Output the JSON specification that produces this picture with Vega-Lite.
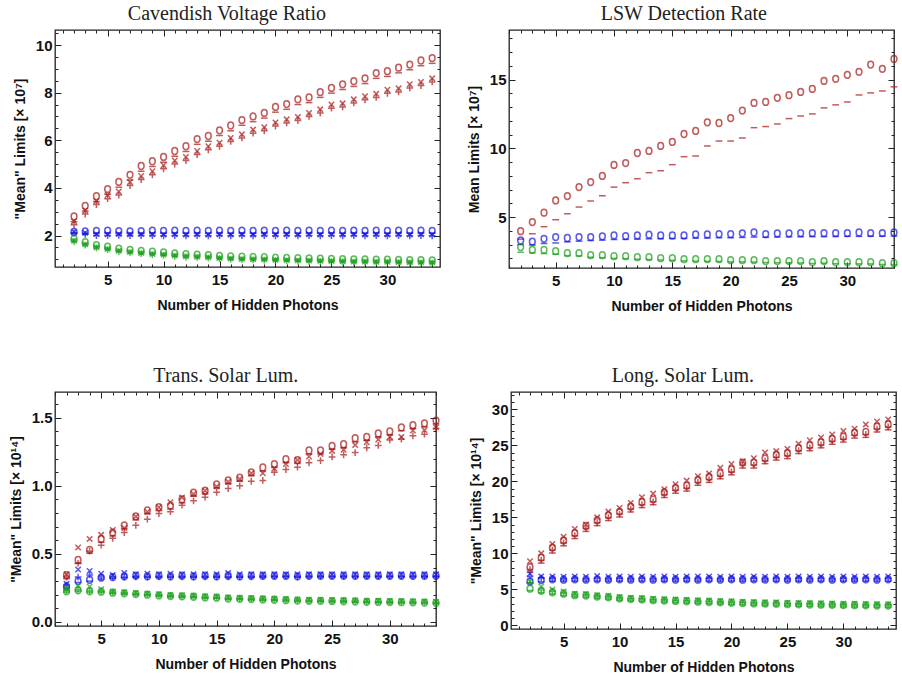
{
"$schema": "https://vega.github.io/schema/vega-lite/v6.json",
"padding": {"left": 8, "top": 2, "right": 5, "bottom": 5},
"config": {
  "view": {"stroke": "#222", "strokeWidth": 1.3},
  "axis": {"grid": false, "domain": false, "labelFont": "Liberation Sans", "labelFontWeight": "bold", "labelFontSize": 15, "labelColor": "#111", "titleFont": "Liberation Sans", "titleFontWeight": "bold", "titleFontSize": 14, "titleColor": "#111", "tickColor": "#222", "tickWidth": 1, "labelOverlap": false},
  "axisX": {"labelPadding": 11, "titlePadding": 11},
  "axisY": {"labelPadding": 9, "titlePadding": 8},
  "title": {"font": "Liberation Serif", "fontSize": 20, "fontWeight": "normal", "color": "#222", "offset": 6, "anchor": "middle", "frame": "bounds"},
  "point": {"filled": false, "strokeWidth": 1.5, "size": 46}
},
"datasets": {
"cav": [
{"s":"r","n":2,"o":2.8,"d":2.58,"x":2.6,"p":2.45},
{"s":"r","n":3,"o":3.25,"d":3.03,"x":3.05,"p":2.9},
{"s":"r","n":4,"o":3.65,"d":3.43,"x":3.45,"p":3.3},
{"s":"r","n":5,"o":3.95,"d":3.73,"x":3.7,"p":3.55},
{"s":"r","n":6,"o":4.25,"d":4.03,"x":3.85,"p":3.7},
{"s":"r","n":7,"o":4.55,"d":4.33,"x":4.25,"p":4.1},
{"s":"r","n":8,"o":4.92,"d":4.7,"x":4.5,"p":4.35},
{"s":"r","n":9,"o":5.12,"d":4.9,"x":4.7,"p":4.55},
{"s":"r","n":10,"o":5.3,"d":5.08,"x":4.95,"p":4.8},
{"s":"r","n":11,"o":5.55,"d":5.33,"x":5.15,"p":5.0},
{"s":"r","n":12,"o":5.75,"d":5.53,"x":5.3,"p":5.15},
{"s":"r","n":13,"o":6.05,"d":5.83,"x":5.55,"p":5.4},
{"s":"r","n":14,"o":6.18,"d":5.96,"x":5.75,"p":5.6},
{"s":"r","n":15,"o":6.42,"d":6.2,"x":5.9,"p":5.75},
{"s":"r","n":16,"o":6.62,"d":6.4,"x":6.1,"p":5.95},
{"s":"r","n":17,"o":6.85,"d":6.63,"x":6.25,"p":6.1},
{"s":"r","n":18,"o":7.0,"d":6.78,"x":6.45,"p":6.3},
{"s":"r","n":19,"o":7.15,"d":6.93,"x":6.55,"p":6.4},
{"s":"r","n":20,"o":7.4,"d":7.18,"x":6.75,"p":6.6},
{"s":"r","n":21,"o":7.52,"d":7.3,"x":6.88,"p":6.73},
{"s":"r","n":22,"o":7.72,"d":7.5,"x":6.98,"p":6.83},
{"s":"r","n":23,"o":7.8,"d":7.58,"x":7.15,"p":7.0},
{"s":"r","n":24,"o":8.02,"d":7.8,"x":7.3,"p":7.15},
{"s":"r","n":25,"o":8.2,"d":7.98,"x":7.5,"p":7.35},
{"s":"r","n":26,"o":8.35,"d":8.13,"x":7.55,"p":7.4},
{"s":"r","n":27,"o":8.48,"d":8.26,"x":7.72,"p":7.57},
{"s":"r","n":28,"o":8.6,"d":8.38,"x":7.85,"p":7.7},
{"s":"r","n":29,"o":8.82,"d":8.6,"x":7.95,"p":7.8},
{"s":"r","n":30,"o":8.9,"d":8.68,"x":8.12,"p":7.97},
{"s":"r","n":31,"o":9.05,"d":8.83,"x":8.18,"p":8.03},
{"s":"r","n":32,"o":9.18,"d":8.96,"x":8.35,"p":8.2},
{"s":"r","n":33,"o":9.35,"d":9.13,"x":8.45,"p":8.3},
{"s":"r","n":34,"o":9.45,"d":9.23,"x":8.6,"p":8.45},
{"s":"b","n":2,"o":2.15,"d":2.12,"x":2.15,"p":2.1},
{"s":"b","n":3,"o":2.18,"d":2.1,"x":2.12,"p":2.05},
{"s":"b","n":4,"o":2.2,"d":2.1,"x":2.06,"p":2.0},
{"s":"b","n":5,"o":2.21,"d":2.11,"x":2.05,"p":2.0},
{"s":"b","n":6,"o":2.19,"d":2.1,"x":2.06,"p":2.01},
{"s":"b","n":7,"o":2.18,"d":2.1,"x":2.05,"p":2.0},
{"s":"b","n":8,"o":2.19,"d":2.1,"x":2.06,"p":2.0},
{"s":"b","n":9,"o":2.21,"d":2.11,"x":2.05,"p":2.0},
{"s":"b","n":10,"o":2.2,"d":2.1,"x":2.04,"p":1.99},
{"s":"b","n":11,"o":2.21,"d":2.11,"x":2.05,"p":2.0},
{"s":"b","n":12,"o":2.2,"d":2.1,"x":2.04,"p":1.99},
{"s":"b","n":13,"o":2.21,"d":2.11,"x":2.05,"p":2.0},
{"s":"b","n":14,"o":2.2,"d":2.1,"x":2.04,"p":1.99},
{"s":"b","n":15,"o":2.21,"d":2.11,"x":2.05,"p":2.0},
{"s":"b","n":16,"o":2.2,"d":2.1,"x":2.04,"p":1.99},
{"s":"b","n":17,"o":2.21,"d":2.11,"x":2.05,"p":2.0},
{"s":"b","n":18,"o":2.2,"d":2.1,"x":2.04,"p":1.99},
{"s":"b","n":19,"o":2.21,"d":2.11,"x":2.05,"p":2.0},
{"s":"b","n":20,"o":2.2,"d":2.1,"x":2.04,"p":1.99},
{"s":"b","n":21,"o":2.21,"d":2.11,"x":2.05,"p":2.0},
{"s":"b","n":22,"o":2.2,"d":2.1,"x":2.04,"p":1.99},
{"s":"b","n":23,"o":2.21,"d":2.11,"x":2.05,"p":2.0},
{"s":"b","n":24,"o":2.2,"d":2.1,"x":2.04,"p":1.99},
{"s":"b","n":25,"o":2.21,"d":2.11,"x":2.05,"p":2.0},
{"s":"b","n":26,"o":2.2,"d":2.1,"x":2.04,"p":1.99},
{"s":"b","n":27,"o":2.21,"d":2.11,"x":2.05,"p":2.0},
{"s":"b","n":28,"o":2.2,"d":2.1,"x":2.04,"p":1.99},
{"s":"b","n":29,"o":2.21,"d":2.11,"x":2.05,"p":2.0},
{"s":"b","n":30,"o":2.2,"d":2.1,"x":2.04,"p":1.99},
{"s":"b","n":31,"o":2.21,"d":2.11,"x":2.05,"p":2.0},
{"s":"b","n":32,"o":2.2,"d":2.1,"x":2.04,"p":1.99},
{"s":"b","n":33,"o":2.21,"d":2.11,"x":2.05,"p":2.0},
{"s":"b","n":34,"o":2.2,"d":2.1,"x":2.04,"p":1.99},
{"s":"g","n":2,"o":1.87,"d":1.81,"x":1.78,"p":1.75},
{"s":"g","n":3,"o":1.72,"d":1.66,"x":1.63,"p":1.6},
{"s":"g","n":4,"o":1.6,"d":1.54,"x":1.51,"p":1.48},
{"s":"g","n":5,"o":1.53,"d":1.47,"x":1.44,"p":1.41},
{"s":"g","n":6,"o":1.45,"d":1.39,"x":1.36,"p":1.33},
{"s":"g","n":7,"o":1.4,"d":1.34,"x":1.31,"p":1.28},
{"s":"g","n":8,"o":1.36,"d":1.3,"x":1.27,"p":1.24},
{"s":"g","n":9,"o":1.32,"d":1.26,"x":1.23,"p":1.2},
{"s":"g","n":10,"o":1.29,"d":1.23,"x":1.2,"p":1.17},
{"s":"g","n":11,"o":1.25,"d":1.19,"x":1.16,"p":1.13},
{"s":"g","n":12,"o":1.22,"d":1.16,"x":1.13,"p":1.1},
{"s":"g","n":13,"o":1.2,"d":1.14,"x":1.11,"p":1.08},
{"s":"g","n":14,"o":1.18,"d":1.12,"x":1.09,"p":1.06},
{"s":"g","n":15,"o":1.15,"d":1.09,"x":1.06,"p":1.03},
{"s":"g","n":16,"o":1.13,"d":1.07,"x":1.04,"p":1.01},
{"s":"g","n":17,"o":1.11,"d":1.05,"x":1.02,"p":0.99},
{"s":"g","n":18,"o":1.1,"d":1.04,"x":1.01,"p":0.98},
{"s":"g","n":19,"o":1.09,"d":1.03,"x":1.0,"p":0.97},
{"s":"g","n":20,"o":1.07,"d":1.01,"x":0.98,"p":0.95},
{"s":"g","n":21,"o":1.06,"d":1.0,"x":0.97,"p":0.94},
{"s":"g","n":22,"o":1.05,"d":0.99,"x":0.96,"p":0.93},
{"s":"g","n":23,"o":1.04,"d":0.98,"x":0.95,"p":0.92},
{"s":"g","n":24,"o":1.03,"d":0.97,"x":0.94,"p":0.91},
{"s":"g","n":25,"o":1.02,"d":0.96,"x":0.93,"p":0.9},
{"s":"g","n":26,"o":1.01,"d":0.95,"x":0.92,"p":0.89},
{"s":"g","n":27,"o":1.0,"d":0.94,"x":0.91,"p":0.88},
{"s":"g","n":28,"o":1.0,"d":0.94,"x":0.91,"p":0.88},
{"s":"g","n":29,"o":0.99,"d":0.93,"x":0.9,"p":0.87},
{"s":"g","n":30,"o":0.99,"d":0.93,"x":0.9,"p":0.87},
{"s":"g","n":31,"o":0.98,"d":0.92,"x":0.89,"p":0.86},
{"s":"g","n":32,"o":0.97,"d":0.91,"x":0.88,"p":0.85},
{"s":"g","n":33,"o":0.97,"d":0.91,"x":0.88,"p":0.85},
{"s":"g","n":34,"o":0.96,"d":0.9,"x":0.87,"p":0.84}
],
"lsw": [
{"s":"r","n":2,"o":3.98,"d":3.4},
{"s":"r","n":3,"o":4.64,"d":3.79},
{"s":"r","n":4,"o":5.32,"d":4.3},
{"s":"r","n":5,"o":6.21,"d":4.81},
{"s":"r","n":6,"o":6.53,"d":5.24},
{"s":"r","n":7,"o":7.18,"d":5.73},
{"s":"r","n":8,"o":7.55,"d":6.17},
{"s":"r","n":9,"o":7.99,"d":6.55},
{"s":"r","n":10,"o":8.79,"d":7.18},
{"s":"r","n":11,"o":8.93,"d":7.5},
{"s":"r","n":12,"o":9.66,"d":7.79},
{"s":"r","n":13,"o":9.81,"d":8.23},
{"s":"r","n":14,"o":10.17,"d":8.37},
{"s":"r","n":15,"o":10.46,"d":8.81},
{"s":"r","n":16,"o":11.04,"d":9.39},
{"s":"r","n":17,"o":11.26,"d":9.44},
{"s":"r","n":18,"o":11.89,"d":10.17},
{"s":"r","n":19,"o":11.84,"d":10.53},
{"s":"r","n":20,"o":12.2,"d":10.53},
{"s":"r","n":21,"o":12.74,"d":10.75},
{"s":"r","n":22,"o":13.3,"d":11.5},
{"s":"r","n":23,"o":13.37,"d":11.58},
{"s":"r","n":24,"o":13.67,"d":11.77},
{"s":"r","n":25,"o":13.86,"d":12.16},
{"s":"r","n":26,"o":14.1,"d":12.35},
{"s":"r","n":27,"o":14.32,"d":12.5},
{"s":"r","n":28,"o":14.9,"d":12.94},
{"s":"r","n":29,"o":15.05,"d":13.16},
{"s":"r","n":30,"o":15.34,"d":13.37},
{"s":"r","n":31,"o":15.56,"d":13.88},
{"s":"r","n":32,"o":16.09,"d":14.03},
{"s":"r","n":33,"o":15.78,"d":14.17},
{"s":"r","n":34,"o":16.5,"d":14.47},
{"s":"b","n":2,"o":3.3,"d":3.0},
{"s":"b","n":3,"o":3.22,"d":2.97},
{"s":"b","n":4,"o":3.42,"d":3.08},
{"s":"b","n":5,"o":3.55,"d":3.12},
{"s":"b","n":6,"o":3.48,"d":3.2},
{"s":"b","n":7,"o":3.55,"d":3.25},
{"s":"b","n":8,"o":3.55,"d":3.3},
{"s":"b","n":9,"o":3.6,"d":3.33},
{"s":"b","n":10,"o":3.67,"d":3.37},
{"s":"b","n":11,"o":3.62,"d":3.38},
{"s":"b","n":12,"o":3.67,"d":3.4},
{"s":"b","n":13,"o":3.72,"d":3.42},
{"s":"b","n":14,"o":3.67,"d":3.43},
{"s":"b","n":15,"o":3.67,"d":3.44},
{"s":"b","n":16,"o":3.67,"d":3.45},
{"s":"b","n":17,"o":3.74,"d":3.47},
{"s":"b","n":18,"o":3.74,"d":3.48},
{"s":"b","n":19,"o":3.77,"d":3.5},
{"s":"b","n":20,"o":3.77,"d":3.5},
{"s":"b","n":21,"o":3.82,"d":3.52},
{"s":"b","n":22,"o":3.88,"d":3.55},
{"s":"b","n":23,"o":3.77,"d":3.53},
{"s":"b","n":24,"o":3.82,"d":3.55},
{"s":"b","n":25,"o":3.82,"d":3.56},
{"s":"b","n":26,"o":3.84,"d":3.57},
{"s":"b","n":27,"o":3.84,"d":3.58},
{"s":"b","n":28,"o":3.84,"d":3.58},
{"s":"b","n":29,"o":3.84,"d":3.59},
{"s":"b","n":30,"o":3.84,"d":3.6},
{"s":"b","n":31,"o":3.88,"d":3.6},
{"s":"b","n":32,"o":3.84,"d":3.61},
{"s":"b","n":33,"o":3.84,"d":3.61},
{"s":"b","n":34,"o":3.88,"d":3.62},
{"s":"g","n":2,"o":2.82,"d":2.45},
{"s":"g","n":3,"o":2.62,"d":2.4},
{"s":"g","n":4,"o":2.62,"d":2.35},
{"s":"g","n":5,"o":2.52,"d":2.3},
{"s":"g","n":6,"o":2.38,"d":2.2},
{"s":"g","n":7,"o":2.38,"d":2.18},
{"s":"g","n":8,"o":2.23,"d":2.08},
{"s":"g","n":9,"o":2.23,"d":2.05},
{"s":"g","n":10,"o":2.16,"d":2.0},
{"s":"g","n":11,"o":2.16,"d":1.98},
{"s":"g","n":12,"o":2.09,"d":1.94},
{"s":"g","n":13,"o":2.09,"d":1.92},
{"s":"g","n":14,"o":2.01,"d":1.88},
{"s":"g","n":15,"o":2.01,"d":1.86},
{"s":"g","n":16,"o":1.94,"d":1.82},
{"s":"g","n":17,"o":1.94,"d":1.8},
{"s":"g","n":18,"o":1.94,"d":1.79},
{"s":"g","n":19,"o":1.94,"d":1.78},
{"s":"g","n":20,"o":1.87,"d":1.75},
{"s":"g","n":21,"o":1.87,"d":1.74},
{"s":"g","n":22,"o":1.87,"d":1.73},
{"s":"g","n":23,"o":1.8,"d":1.7},
{"s":"g","n":24,"o":1.8,"d":1.69},
{"s":"g","n":25,"o":1.8,"d":1.68},
{"s":"g","n":26,"o":1.8,"d":1.67},
{"s":"g","n":27,"o":1.72,"d":1.63},
{"s":"g","n":28,"o":1.8,"d":1.66},
{"s":"g","n":29,"o":1.72,"d":1.62},
{"s":"g","n":30,"o":1.72,"d":1.61},
{"s":"g","n":31,"o":1.72,"d":1.6},
{"s":"g","n":32,"o":1.72,"d":1.6},
{"s":"g","n":33,"o":1.65,"d":1.56},
{"s":"g","n":34,"o":1.65,"d":1.55}
],
"trans": [
{"s":"r","n":2,"o":0.343,"d":0.318,"x":0.35,"p":0.33},
{"s":"r","n":3,"o":0.456,"d":0.431,"x":0.547,"p":0.43},
{"s":"r","n":4,"o":0.53,"d":0.505,"x":0.61,"p":0.52},
{"s":"r","n":5,"o":0.61,"d":0.585,"x":0.64,"p":0.564},
{"s":"r","n":6,"o":0.657,"d":0.632,"x":0.676,"p":0.615},
{"s":"r","n":7,"o":0.71,"d":0.685,"x":0.69,"p":0.657},
{"s":"r","n":8,"o":0.775,"d":0.75,"x":0.775,"p":0.71},
{"s":"r","n":9,"o":0.82,"d":0.795,"x":0.81,"p":0.755},
{"s":"r","n":10,"o":0.843,"d":0.818,"x":0.843,"p":0.797},
{"s":"r","n":11,"o":0.855,"d":0.83,"x":0.88,"p":0.81},
{"s":"r","n":12,"o":0.9,"d":0.875,"x":0.915,"p":0.858},
{"s":"r","n":13,"o":0.95,"d":0.925,"x":0.94,"p":0.89},
{"s":"r","n":14,"o":0.965,"d":0.94,"x":0.965,"p":0.917},
{"s":"r","n":15,"o":1.01,"d":0.985,"x":0.995,"p":0.953},
{"s":"r","n":16,"o":1.04,"d":1.015,"x":1.03,"p":0.98},
{"s":"r","n":17,"o":1.06,"d":1.035,"x":1.05,"p":1.0},
{"s":"r","n":18,"o":1.1,"d":1.075,"x":1.093,"p":1.034},
{"s":"r","n":19,"o":1.135,"d":1.11,"x":1.093,"p":1.04},
{"s":"r","n":20,"o":1.16,"d":1.135,"x":1.127,"p":1.1},
{"s":"r","n":21,"o":1.196,"d":1.171,"x":1.16,"p":1.12},
{"s":"r","n":22,"o":1.19,"d":1.165,"x":1.19,"p":1.137},
{"s":"r","n":23,"o":1.26,"d":1.235,"x":1.215,"p":1.17},
{"s":"r","n":24,"o":1.26,"d":1.235,"x":1.235,"p":1.186},
{"s":"r","n":25,"o":1.294,"d":1.269,"x":1.257,"p":1.213},
{"s":"r","n":26,"o":1.306,"d":1.281,"x":1.265,"p":1.228},
{"s":"r","n":27,"o":1.35,"d":1.325,"x":1.3,"p":1.245},
{"s":"r","n":28,"o":1.36,"d":1.335,"x":1.32,"p":1.28},
{"s":"r","n":29,"o":1.385,"d":1.36,"x":1.34,"p":1.297},
{"s":"r","n":30,"o":1.4,"d":1.375,"x":1.36,"p":1.338},
{"s":"r","n":31,"o":1.43,"d":1.405,"x":1.36,"p":1.343},
{"s":"r","n":32,"o":1.446,"d":1.421,"x":1.407,"p":1.368},
{"s":"r","n":33,"o":1.46,"d":1.435,"x":1.41,"p":1.38},
{"s":"r","n":34,"o":1.48,"d":1.455,"x":1.43,"p":1.424},
{"s":"b","n":2,"o":0.26,"d":0.25,"x":0.28,"p":0.27},
{"s":"b","n":3,"o":0.3,"d":0.29,"x":0.385,"p":0.33},
{"s":"b","n":4,"o":0.31,"d":0.3,"x":0.375,"p":0.345},
{"s":"b","n":5,"o":0.325,"d":0.315,"x":0.355,"p":0.33},
{"s":"b","n":6,"o":0.33,"d":0.32,"x":0.345,"p":0.33},
{"s":"b","n":7,"o":0.335,"d":0.325,"x":0.36,"p":0.33},
{"s":"b","n":8,"o":0.34,"d":0.328,"x":0.35,"p":0.332},
{"s":"b","n":9,"o":0.335,"d":0.328,"x":0.355,"p":0.332},
{"s":"b","n":10,"o":0.34,"d":0.328,"x":0.35,"p":0.332},
{"s":"b","n":11,"o":0.335,"d":0.328,"x":0.355,"p":0.332},
{"s":"b","n":12,"o":0.34,"d":0.328,"x":0.35,"p":0.332},
{"s":"b","n":13,"o":0.335,"d":0.328,"x":0.35,"p":0.332},
{"s":"b","n":14,"o":0.34,"d":0.328,"x":0.35,"p":0.332},
{"s":"b","n":15,"o":0.335,"d":0.328,"x":0.35,"p":0.332},
{"s":"b","n":16,"o":0.34,"d":0.328,"x":0.36,"p":0.332},
{"s":"b","n":17,"o":0.335,"d":0.328,"x":0.35,"p":0.332},
{"s":"b","n":18,"o":0.34,"d":0.328,"x":0.35,"p":0.332},
{"s":"b","n":19,"o":0.34,"d":0.328,"x":0.35,"p":0.335},
{"s":"b","n":20,"o":0.34,"d":0.33,"x":0.35,"p":0.335},
{"s":"b","n":21,"o":0.34,"d":0.33,"x":0.35,"p":0.335},
{"s":"b","n":22,"o":0.335,"d":0.328,"x":0.35,"p":0.332},
{"s":"b","n":23,"o":0.34,"d":0.33,"x":0.35,"p":0.335},
{"s":"b","n":24,"o":0.34,"d":0.33,"x":0.35,"p":0.335},
{"s":"b","n":25,"o":0.34,"d":0.33,"x":0.35,"p":0.335},
{"s":"b","n":26,"o":0.34,"d":0.33,"x":0.35,"p":0.335},
{"s":"b","n":27,"o":0.34,"d":0.33,"x":0.35,"p":0.335},
{"s":"b","n":28,"o":0.34,"d":0.33,"x":0.35,"p":0.335},
{"s":"b","n":29,"o":0.34,"d":0.33,"x":0.35,"p":0.335},
{"s":"b","n":30,"o":0.34,"d":0.33,"x":0.35,"p":0.335},
{"s":"b","n":31,"o":0.34,"d":0.33,"x":0.35,"p":0.335},
{"s":"b","n":32,"o":0.34,"d":0.33,"x":0.35,"p":0.335},
{"s":"b","n":33,"o":0.34,"d":0.33,"x":0.35,"p":0.335},
{"s":"b","n":34,"o":0.34,"d":0.33,"x":0.35,"p":0.335},
{"s":"g","n":2,"o":0.225,"d":0.219,"x":0.25,"p":0.229},
{"s":"g","n":3,"o":0.232,"d":0.226,"x":0.265,"p":0.236},
{"s":"g","n":4,"o":0.225,"d":0.219,"x":0.26,"p":0.229},
{"s":"g","n":5,"o":0.222,"d":0.216,"x":0.24,"p":0.226},
{"s":"g","n":6,"o":0.215,"d":0.209,"x":0.223,"p":0.219},
{"s":"g","n":7,"o":0.21,"d":0.204,"x":0.218,"p":0.214},
{"s":"g","n":8,"o":0.205,"d":0.199,"x":0.213,"p":0.209},
{"s":"g","n":9,"o":0.2,"d":0.194,"x":0.208,"p":0.204},
{"s":"g","n":10,"o":0.195,"d":0.189,"x":0.203,"p":0.199},
{"s":"g","n":11,"o":0.19,"d":0.184,"x":0.198,"p":0.194},
{"s":"g","n":12,"o":0.188,"d":0.182,"x":0.196,"p":0.192},
{"s":"g","n":13,"o":0.185,"d":0.179,"x":0.193,"p":0.189},
{"s":"g","n":14,"o":0.18,"d":0.174,"x":0.188,"p":0.184},
{"s":"g","n":15,"o":0.178,"d":0.172,"x":0.186,"p":0.182},
{"s":"g","n":16,"o":0.172,"d":0.166,"x":0.18,"p":0.176},
{"s":"g","n":17,"o":0.17,"d":0.164,"x":0.178,"p":0.174},
{"s":"g","n":18,"o":0.168,"d":0.162,"x":0.176,"p":0.172},
{"s":"g","n":19,"o":0.165,"d":0.159,"x":0.173,"p":0.169},
{"s":"g","n":20,"o":0.163,"d":0.157,"x":0.171,"p":0.167},
{"s":"g","n":21,"o":0.16,"d":0.154,"x":0.168,"p":0.164},
{"s":"g","n":22,"o":0.157,"d":0.151,"x":0.165,"p":0.161},
{"s":"g","n":23,"o":0.155,"d":0.149,"x":0.163,"p":0.159},
{"s":"g","n":24,"o":0.155,"d":0.149,"x":0.163,"p":0.159},
{"s":"g","n":25,"o":0.153,"d":0.147,"x":0.161,"p":0.157},
{"s":"g","n":26,"o":0.152,"d":0.146,"x":0.16,"p":0.156},
{"s":"g","n":27,"o":0.15,"d":0.144,"x":0.158,"p":0.154},
{"s":"g","n":28,"o":0.148,"d":0.142,"x":0.156,"p":0.152},
{"s":"g","n":29,"o":0.147,"d":0.141,"x":0.155,"p":0.151},
{"s":"g","n":30,"o":0.146,"d":0.14,"x":0.154,"p":0.15},
{"s":"g","n":31,"o":0.145,"d":0.139,"x":0.153,"p":0.149},
{"s":"g","n":32,"o":0.144,"d":0.138,"x":0.152,"p":0.148},
{"s":"g","n":33,"o":0.142,"d":0.136,"x":0.15,"p":0.146},
{"s":"g","n":34,"o":0.14,"d":0.134,"x":0.148,"p":0.144}
],
"long": [
{"s":"r","n":2,"o":8.1,"d":7.35,"x":8.9,"p":7.75},
{"s":"r","n":3,"o":9.4,"d":8.65,"x":10.0,"p":9.05},
{"s":"r","n":4,"o":10.8,"d":10.05,"x":11.3,"p":10.45},
{"s":"r","n":5,"o":11.8,"d":11.05,"x":12.3,"p":11.45},
{"s":"r","n":6,"o":12.8,"d":12.05,"x":13.4,"p":12.45},
{"s":"r","n":7,"o":13.8,"d":13.05,"x":14.0,"p":13.45},
{"s":"r","n":8,"o":14.6,"d":13.85,"x":15.0,"p":14.25},
{"s":"r","n":9,"o":15.3,"d":14.55,"x":15.8,"p":14.95},
{"s":"r","n":10,"o":15.8,"d":15.05,"x":16.3,"p":15.45},
{"s":"r","n":11,"o":16.5,"d":15.75,"x":17.0,"p":16.15},
{"s":"r","n":12,"o":17.1,"d":16.35,"x":17.8,"p":16.75},
{"s":"r","n":13,"o":17.5,"d":16.75,"x":18.3,"p":17.15},
{"s":"r","n":14,"o":18.5,"d":17.75,"x":18.9,"p":18.15},
{"s":"r","n":15,"o":19.1,"d":18.35,"x":19.6,"p":18.75},
{"s":"r","n":16,"o":19.4,"d":18.65,"x":20.1,"p":19.05},
{"s":"r","n":17,"o":20.2,"d":19.45,"x":20.7,"p":19.85},
{"s":"r","n":18,"o":20.6,"d":19.85,"x":21.1,"p":20.25},
{"s":"r","n":19,"o":21.1,"d":20.35,"x":21.9,"p":20.75},
{"s":"r","n":20,"o":21.65,"d":20.9,"x":22.4,"p":21.3},
{"s":"r","n":21,"o":22.6,"d":21.85,"x":22.8,"p":22.25},
{"s":"r","n":22,"o":22.6,"d":21.85,"x":23.2,"p":22.25},
{"s":"r","n":23,"o":23.2,"d":22.45,"x":24.0,"p":22.85},
{"s":"r","n":24,"o":23.7,"d":22.95,"x":24.2,"p":23.35},
{"s":"r","n":25,"o":23.9,"d":23.15,"x":24.5,"p":23.55},
{"s":"r","n":26,"o":24.6,"d":23.85,"x":25.2,"p":24.25},
{"s":"r","n":27,"o":25.0,"d":24.25,"x":25.7,"p":24.65},
{"s":"r","n":28,"o":25.4,"d":24.65,"x":26.1,"p":25.05},
{"s":"r","n":29,"o":25.9,"d":25.15,"x":26.5,"p":25.55},
{"s":"r","n":30,"o":26.2,"d":25.45,"x":27.0,"p":25.85},
{"s":"r","n":31,"o":26.75,"d":26.0,"x":27.3,"p":26.4},
{"s":"r","n":32,"o":26.85,"d":26.1,"x":27.9,"p":26.5},
{"s":"r","n":33,"o":27.6,"d":26.85,"x":28.3,"p":27.25},
{"s":"r","n":34,"o":27.9,"d":27.15,"x":28.6,"p":27.55},
{"s":"b","n":2,"o":6.1,"d":5.9,"x":7.2,"p":6.8},
{"s":"b","n":3,"o":6.3,"d":6.05,"x":6.8,"p":6.6},
{"s":"b","n":4,"o":6.4,"d":6.15,"x":6.8,"p":6.5},
{"s":"b","n":5,"o":6.35,"d":6.15,"x":6.75,"p":6.45},
{"s":"b","n":6,"o":6.4,"d":6.15,"x":6.8,"p":6.5},
{"s":"b","n":7,"o":6.35,"d":6.15,"x":6.75,"p":6.45},
{"s":"b","n":8,"o":6.4,"d":6.15,"x":6.85,"p":6.5},
{"s":"b","n":9,"o":6.35,"d":6.15,"x":6.75,"p":6.45},
{"s":"b","n":10,"o":6.4,"d":6.15,"x":6.8,"p":6.5},
{"s":"b","n":11,"o":6.35,"d":6.15,"x":6.75,"p":6.45},
{"s":"b","n":12,"o":6.4,"d":6.15,"x":6.8,"p":6.5},
{"s":"b","n":13,"o":6.35,"d":6.15,"x":6.75,"p":6.45},
{"s":"b","n":14,"o":6.4,"d":6.15,"x":6.8,"p":6.5},
{"s":"b","n":15,"o":6.35,"d":6.15,"x":6.75,"p":6.45},
{"s":"b","n":16,"o":6.4,"d":6.15,"x":6.8,"p":6.5},
{"s":"b","n":17,"o":6.35,"d":6.15,"x":6.8,"p":6.45},
{"s":"b","n":18,"o":6.4,"d":6.15,"x":6.8,"p":6.5},
{"s":"b","n":19,"o":6.35,"d":6.15,"x":6.75,"p":6.45},
{"s":"b","n":20,"o":6.4,"d":6.15,"x":6.8,"p":6.5},
{"s":"b","n":21,"o":6.35,"d":6.15,"x":6.75,"p":6.45},
{"s":"b","n":22,"o":6.4,"d":6.15,"x":6.8,"p":6.5},
{"s":"b","n":23,"o":6.35,"d":6.15,"x":6.75,"p":6.45},
{"s":"b","n":24,"o":6.4,"d":6.15,"x":6.8,"p":6.5},
{"s":"b","n":25,"o":6.35,"d":6.15,"x":6.75,"p":6.45},
{"s":"b","n":26,"o":6.4,"d":6.15,"x":6.8,"p":6.5},
{"s":"b","n":27,"o":6.35,"d":6.15,"x":6.75,"p":6.45},
{"s":"b","n":28,"o":6.4,"d":6.15,"x":6.8,"p":6.5},
{"s":"b","n":29,"o":6.35,"d":6.15,"x":6.75,"p":6.45},
{"s":"b","n":30,"o":6.4,"d":6.15,"x":6.8,"p":6.5},
{"s":"b","n":31,"o":6.35,"d":6.15,"x":6.75,"p":6.45},
{"s":"b","n":32,"o":6.4,"d":6.15,"x":6.8,"p":6.5},
{"s":"b","n":33,"o":6.35,"d":6.15,"x":6.75,"p":6.45},
{"s":"b","n":34,"o":6.4,"d":6.15,"x":6.8,"p":6.5},
{"s":"g","n":2,"o":5.1,"d":4.85,"x":6.1,"p":5.9},
{"s":"g","n":3,"o":4.8,"d":4.55,"x":5.4,"p":4.9},
{"s":"g","n":4,"o":4.6,"d":4.35,"x":5.0,"p":4.7},
{"s":"g","n":5,"o":4.4,"d":4.15,"x":4.7,"p":4.5},
{"s":"g","n":6,"o":4.2,"d":3.95,"x":4.4,"p":4.3},
{"s":"g","n":7,"o":4.15,"d":3.9,"x":4.35,"p":4.25},
{"s":"g","n":8,"o":4.0,"d":3.75,"x":4.2,"p":4.1},
{"s":"g","n":9,"o":3.9,"d":3.65,"x":4.1,"p":4.0},
{"s":"g","n":10,"o":3.75,"d":3.5,"x":3.95,"p":3.85},
{"s":"g","n":11,"o":3.65,"d":3.4,"x":3.85,"p":3.75},
{"s":"g","n":12,"o":3.6,"d":3.35,"x":3.8,"p":3.7},
{"s":"g","n":13,"o":3.5,"d":3.25,"x":3.7,"p":3.6},
{"s":"g","n":14,"o":3.45,"d":3.2,"x":3.65,"p":3.55},
{"s":"g","n":15,"o":3.4,"d":3.15,"x":3.6,"p":3.5},
{"s":"g","n":16,"o":3.35,"d":3.1,"x":3.55,"p":3.45},
{"s":"g","n":17,"o":3.3,"d":3.05,"x":3.5,"p":3.4},
{"s":"g","n":18,"o":3.25,"d":3.0,"x":3.45,"p":3.35},
{"s":"g","n":19,"o":3.2,"d":2.95,"x":3.4,"p":3.3},
{"s":"g","n":20,"o":3.15,"d":2.9,"x":3.35,"p":3.25},
{"s":"g","n":21,"o":3.1,"d":2.85,"x":3.3,"p":3.2},
{"s":"g","n":22,"o":3.05,"d":2.8,"x":3.25,"p":3.15},
{"s":"g","n":23,"o":3.02,"d":2.77,"x":3.22,"p":3.12},
{"s":"g","n":24,"o":3.0,"d":2.75,"x":3.2,"p":3.1},
{"s":"g","n":25,"o":2.95,"d":2.7,"x":3.15,"p":3.05},
{"s":"g","n":26,"o":2.92,"d":2.67,"x":3.12,"p":3.02},
{"s":"g","n":27,"o":2.9,"d":2.65,"x":3.1,"p":3.0},
{"s":"g","n":28,"o":2.88,"d":2.63,"x":3.08,"p":2.98},
{"s":"g","n":29,"o":2.85,"d":2.6,"x":3.05,"p":2.95},
{"s":"g","n":30,"o":2.82,"d":2.57,"x":3.02,"p":2.92},
{"s":"g","n":31,"o":2.8,"d":2.55,"x":3.0,"p":2.9},
{"s":"g","n":32,"o":2.78,"d":2.53,"x":2.98,"p":2.88},
{"s":"g","n":33,"o":2.76,"d":2.51,"x":2.96,"p":2.86},
{"s":"g","n":34,"o":2.75,"d":2.5,"x":2.95,"p":2.85}
]
},
"spacing": 50,
"vconcat": [
{"hconcat": [
{
 "title": "Cavendish Voltage Ratio",
 "width": 385, "height": 237,
 "data": {"name": "cav"},
 "transform": [{"fold": ["o","d","x","p"], "as": ["m","v"]}, {"filter": "isValid(datum.v)"}],
 "layer": [
  {"mark": {"type": "point"},
   "encoding": {
    "x": {"field": "n", "type": "quantitative", "scale": {"domain": [0.3, 34.7], "nice": false, "zero": false},
      "axis": {"orient": "bottom", "title": "Number of Hidden Photons", "values": [5,10,15,20,25,30], "format": "d", "tickSize": -6}},
    "y": {"field": "v", "type": "quantitative", "scale": {"domain": [0.68, 10.63], "nice": false, "zero": false},
      "axis": {"orient": "left", "title": "\"Mean\" Limits [× 10⁷]", "values": [2,4,6,8,10], "format": "d", "tickSize": -6}},
    "color": {"field": "s", "type": "nominal", "scale": {"domain": ["r","b","g"], "range": ["#a81818","#1515e6","#18a018"]}, "legend": null},
    "shape": {"field": "m", "type": "nominal", "scale": {"domain": ["o","d","x","p"], "range": ["M-0.85,0A0.85,1,0,1,1,0.85,0A0.85,1,0,1,1,-0.85,0Z", "M-1,0L1,0", "M-0.8,-0.8L0.8,0.8M-0.8,0.8L0.8,-0.8", "M-1,0L1,0M0,-1L0,1"]}, "legend": null}
   }},
  {"mark": {"type": "point", "opacity": 0},
   "transform": [{"filter": "datum.n == 2"}],
   "encoding": {
    "x": {"field": "n", "type": "quantitative", "axis": {"orient": "top", "title": null, "labels": false, "values": [5,10,15,20,25,30], "tickSize": -6}},
    "y": {"field": "v", "type": "quantitative", "axis": {"orient": "right", "title": null, "labels": false, "values": [2,4,6,8,10], "tickSize": -6}}
   }},
  {"mark": {"type": "point", "opacity": 0},
   "transform": [{"filter": "datum.n == 2"}],
   "encoding": {
    "x": {"field": "n", "type": "quantitative", "axis": {"orient": "bottom", "title": null, "labels": false, "values": [1,2,3,4,6,7,8,9,11,12,13,14,16,17,18,19,21,22,23,24,26,27,28,29,31,32,33,34], "tickSize": -3}},
    "y": {"field": "v", "type": "quantitative", "axis": {"orient": "left", "title": null, "labels": false, "values": [1,1.5,2.5,3,3.5,4.5,5,5.5,6.5,7,7.5,8.5,9,9.5,10.5], "tickSize": -3}}
   }},
  {"mark": {"type": "point", "opacity": 0},
   "transform": [{"filter": "datum.n == 2"}],
   "encoding": {
    "x": {"field": "n", "type": "quantitative", "axis": {"orient": "top", "title": null, "labels": false, "values": [1,2,3,4,6,7,8,9,11,12,13,14,16,17,18,19,21,22,23,24,26,27,28,29,31,32,33,34], "tickSize": -3}},
    "y": {"field": "v", "type": "quantitative", "axis": {"orient": "right", "title": null, "labels": false, "values": [1,1.5,2.5,3,3.5,4.5,5,5.5,6.5,7,7.5,8.5,9,9.5,10.5], "tickSize": -3}}
   }}
 ],
 "resolve": {"axis": {"x": "independent", "y": "independent"}}
},
{
 "title": "LSW Detection Rate",
 "width": 385, "height": 238,
 "data": {"name": "lsw"},
 "transform": [{"fold": ["o","d","x","p"], "as": ["m","v"]}, {"filter": "isValid(datum.v)"}],
 "layer": [
  {"mark": {"type": "point"},
   "encoding": {
    "x": {"field": "n", "type": "quantitative", "scale": {"domain": [1, 34], "nice": false, "zero": false},
      "axis": {"orient": "bottom", "title": "Number of Hidden Photons", "values": [5,10,15,20,25,30], "format": "d", "tickSize": -6}},
    "y": {"field": "v", "type": "quantitative", "scale": {"domain": [1.3, 18.6], "nice": false, "zero": false},
      "axis": {"orient": "left", "title": "Mean Limits [× 10⁷]", "values": [5,10,15], "format": "d", "tickSize": -6}},
    "color": {"field": "s", "type": "nominal", "scale": {"domain": ["r","b","g"], "range": ["#a81818","#1515e6","#18a018"]}, "legend": null},
    "shape": {"field": "m", "type": "nominal", "scale": {"domain": ["o","d","x","p"], "range": ["M-0.85,0A0.85,1,0,1,1,0.85,0A0.85,1,0,1,1,-0.85,0Z", "M-1,0L1,0", "M-0.8,-0.8L0.8,0.8M-0.8,0.8L0.8,-0.8", "M-1,0L1,0M0,-1L0,1"]}, "legend": null}
   }},
  {"mark": {"type": "point", "opacity": 0},
   "transform": [{"filter": "datum.n == 2"}],
   "encoding": {
    "x": {"field": "n", "type": "quantitative", "axis": {"orient": "top", "title": null, "labels": false, "values": [5,10,15,20,25,30], "tickSize": -6}},
    "y": {"field": "v", "type": "quantitative", "axis": {"orient": "right", "title": null, "labels": false, "values": [5,10,15], "tickSize": -6}}
   }},
  {"mark": {"type": "point", "opacity": 0},
   "transform": [{"filter": "datum.n == 2"}],
   "encoding": {
    "x": {"field": "n", "type": "quantitative", "axis": {"orient": "bottom", "title": null, "labels": false, "values": [1,2,3,4,6,7,8,9,11,12,13,14,16,17,18,19,21,22,23,24,26,27,28,29,31,32,33,34], "tickSize": -3}},
    "y": {"field": "v", "type": "quantitative", "axis": {"orient": "left", "title": null, "labels": false, "values": [2,3,4,6,7,8,9,11,12,13,14,16,17,18], "tickSize": -3}}
   }},
  {"mark": {"type": "point", "opacity": 0},
   "transform": [{"filter": "datum.n == 2"}],
   "encoding": {
    "x": {"field": "n", "type": "quantitative", "axis": {"orient": "top", "title": null, "labels": false, "values": [1,2,3,4,6,7,8,9,11,12,13,14,16,17,18,19,21,22,23,24,26,27,28,29,31,32,33,34], "tickSize": -3}},
    "y": {"field": "v", "type": "quantitative", "axis": {"orient": "right", "title": null, "labels": false, "values": [2,3,4,6,7,8,9,11,12,13,14,16,17,18], "tickSize": -3}}
   }}
 ],
 "resolve": {"axis": {"x": "independent", "y": "independent"}}
}
], "spacing": 24},
{"hconcat": [
{
 "title": "Trans. Solar Lum.",
 "width": 381, "height": 234,
 "data": {"name": "trans"},
 "transform": [{"fold": ["o","d","x","p"], "as": ["m","v"]}, {"filter": "isValid(datum.v)"}],
 "layer": [
  {"mark": {"type": "point"},
   "encoding": {
    "x": {"field": "n", "type": "quantitative", "scale": {"domain": [1, 34], "nice": false, "zero": false},
      "axis": {"orient": "bottom", "title": "Number of Hidden Photons", "values": [5,10,15,20,25,30], "format": "d", "tickSize": -6}},
    "y": {"field": "v", "type": "quantitative", "scale": {"domain": [-0.03, 1.69], "nice": false, "zero": false},
      "axis": {"orient": "left", "title": "\"Mean\" Limits [× 10¹⁴]", "values": [0,0.5,1,1.5], "format": ".1f", "tickSize": -6}},
    "color": {"field": "s", "type": "nominal", "scale": {"domain": ["r","b","g"], "range": ["#a81818","#1515e6","#18a018"]}, "legend": null},
    "shape": {"field": "m", "type": "nominal", "scale": {"domain": ["o","d","x","p"], "range": ["M-0.85,0A0.85,1,0,1,1,0.85,0A0.85,1,0,1,1,-0.85,0Z", "M-1,0L1,0", "M-0.8,-0.8L0.8,0.8M-0.8,0.8L0.8,-0.8", "M-1,0L1,0M0,-1L0,1"]}, "legend": null}
   }},
  {"mark": {"type": "point", "opacity": 0},
   "transform": [{"filter": "datum.n == 2"}],
   "encoding": {
    "x": {"field": "n", "type": "quantitative", "axis": {"orient": "top", "title": null, "labels": false, "values": [5,10,15,20,25,30], "tickSize": -6}},
    "y": {"field": "v", "type": "quantitative", "axis": {"orient": "right", "title": null, "labels": false, "values": [0,0.5,1,1.5], "tickSize": -6}}
   }},
  {"mark": {"type": "point", "opacity": 0},
   "transform": [{"filter": "datum.n == 2"}],
   "encoding": {
    "x": {"field": "n", "type": "quantitative", "axis": {"orient": "bottom", "title": null, "labels": false, "values": [1,2,3,4,6,7,8,9,11,12,13,14,16,17,18,19,21,22,23,24,26,27,28,29,31,32,33,34], "tickSize": -3}},
    "y": {"field": "v", "type": "quantitative", "axis": {"orient": "left", "title": null, "labels": false, "values": [0.1,0.2,0.3,0.4,0.6,0.7,0.8,0.9,1.1,1.2,1.3,1.4,1.6], "tickSize": -3}}
   }},
  {"mark": {"type": "point", "opacity": 0},
   "transform": [{"filter": "datum.n == 2"}],
   "encoding": {
    "x": {"field": "n", "type": "quantitative", "axis": {"orient": "top", "title": null, "labels": false, "values": [1,2,3,4,6,7,8,9,11,12,13,14,16,17,18,19,21,22,23,24,26,27,28,29,31,32,33,34], "tickSize": -3}},
    "y": {"field": "v", "type": "quantitative", "axis": {"orient": "right", "title": null, "labels": false, "values": [0.1,0.2,0.3,0.4,0.6,0.7,0.8,0.9,1.1,1.2,1.3,1.4,1.6], "tickSize": -3}}
   }}
 ],
 "resolve": {"axis": {"x": "independent", "y": "independent"}}
},
{
 "title": "Long. Solar Lum.",
 "width": 385, "height": 237,
 "data": {"name": "long"},
 "transform": [{"fold": ["o","d","x","p"], "as": ["m","v"]}, {"filter": "isValid(datum.v)"}],
 "layer": [
  {"mark": {"type": "point"},
   "encoding": {
    "x": {"field": "n", "type": "quantitative", "scale": {"domain": [0.3, 34.7], "nice": false, "zero": false},
      "axis": {"orient": "bottom", "title": "Number of Hidden Photons", "values": [5,10,15,20,25,30], "format": "d", "tickSize": -6}},
    "y": {"field": "v", "type": "quantitative", "scale": {"domain": [-0.5, 32.4], "nice": false, "zero": false},
      "axis": {"orient": "left", "title": "\"Mean\" Limits [× 10¹⁴]", "values": [0,5,10,15,20,25,30], "format": "d", "tickSize": -6}},
    "color": {"field": "s", "type": "nominal", "scale": {"domain": ["r","b","g"], "range": ["#a81818","#1515e6","#18a018"]}, "legend": null},
    "shape": {"field": "m", "type": "nominal", "scale": {"domain": ["o","d","x","p"], "range": ["M-0.85,0A0.85,1,0,1,1,0.85,0A0.85,1,0,1,1,-0.85,0Z", "M-1,0L1,0", "M-0.8,-0.8L0.8,0.8M-0.8,0.8L0.8,-0.8", "M-1,0L1,0M0,-1L0,1"]}, "legend": null}
   }},
  {"mark": {"type": "point", "opacity": 0},
   "transform": [{"filter": "datum.n == 2"}],
   "encoding": {
    "x": {"field": "n", "type": "quantitative", "axis": {"orient": "top", "title": null, "labels": false, "values": [5,10,15,20,25,30], "tickSize": -6}},
    "y": {"field": "v", "type": "quantitative", "axis": {"orient": "right", "title": null, "labels": false, "values": [0,5,10,15,20,25,30], "tickSize": -6}}
   }},
  {"mark": {"type": "point", "opacity": 0},
   "transform": [{"filter": "datum.n == 2"}],
   "encoding": {
    "x": {"field": "n", "type": "quantitative", "axis": {"orient": "bottom", "title": null, "labels": false, "values": [1,2,3,4,6,7,8,9,11,12,13,14,16,17,18,19,21,22,23,24,26,27,28,29,31,32,33,34], "tickSize": -3}},
    "y": {"field": "v", "type": "quantitative", "axis": {"orient": "left", "title": null, "labels": false, "values": [1,2,3,4,6,7,8,9,11,12,13,14,16,17,18,19,21,22,23,24,26,27,28,29,31,32], "tickSize": -3}}
   }},
  {"mark": {"type": "point", "opacity": 0},
   "transform": [{"filter": "datum.n == 2"}],
   "encoding": {
    "x": {"field": "n", "type": "quantitative", "axis": {"orient": "top", "title": null, "labels": false, "values": [1,2,3,4,6,7,8,9,11,12,13,14,16,17,18,19,21,22,23,24,26,27,28,29,31,32,33,34], "tickSize": -3}},
    "y": {"field": "v", "type": "quantitative", "axis": {"orient": "right", "title": null, "labels": false, "values": [1,2,3,4,6,7,8,9,11,12,13,14,16,17,18,19,21,22,23,24,26,27,28,29,31,32], "tickSize": -3}}
   }}
 ],
 "resolve": {"axis": {"x": "independent", "y": "independent"}}
}
], "spacing": 24}
]
}
